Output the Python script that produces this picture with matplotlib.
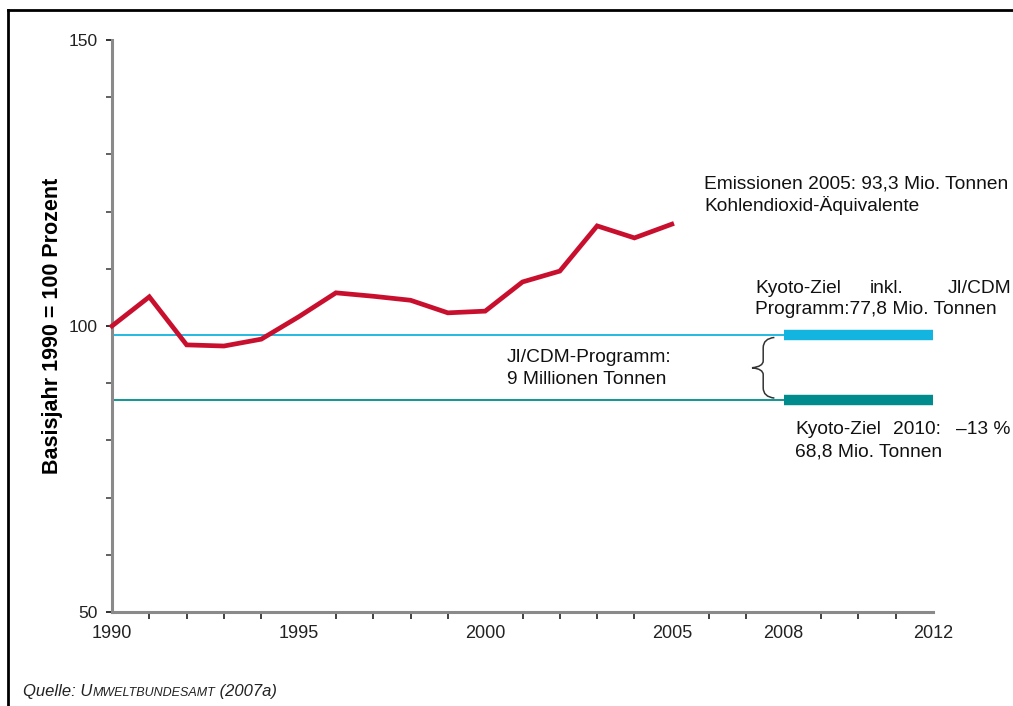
import numpy as np
import matplotlib
matplotlib.use('Agg')
import matplotlib.pyplot as plt
from matplotlib.path import Path
from matplotlib.patches import PathPatch
from matplotlib.lines import Line2D
from matplotlib.ticker import MultipleLocator

plt.rcParams['font.family'] = ['Liberation Sans', 'DejaVu Sans']

##########
# Data   #
##########

years = np.arange(1990, 2006)
emissions = [100.0, 105.1, 96.7, 96.5, 97.7, 101.6, 105.8, 105.2,
             104.5, 102.3, 102.6, 107.7, 109.6, 117.5, 115.4, 117.8]

kyoto_ji = 98.4      # Kyoto-Ziel inkl. JI/CDM (77,8 Mio. t)
kyoto_2010 = 87.0    # Kyoto-Ziel 2010 (68,8 Mio. t)
period = [2008, 2012]

xticks = [1990, 1995, 2000, 2005, 2008, 2012]
yticks = [50, 100, 150]

red = '#c8102e'
cyan = '#14b4e0'
teal = '#008c8c'

W, H = 1013, 706
def fx(px):
  return px/float(W)
def fy(py):
  return 1 - py/float(H)

fig = plt.figure(figsize=(W/100., H/100.), dpi=100)
ax = fig.add_axes([fx(112), fy(612), 821./W, 572./H])

# target lines and bars
ax.plot([years[0], period[0]], [kyoto_ji, kyoto_ji], color=cyan, lw=1.3, solid_capstyle='butt')
ax.plot([years[0], period[0]], [kyoto_2010, kyoto_2010], color=teal, lw=1.3, solid_capstyle='butt')
ax.plot(period, [kyoto_ji, kyoto_ji], color=cyan, lw=7.5, solid_capstyle='butt')
ax.plot(period, [kyoto_2010, kyoto_2010], color=teal, lw=7.5, solid_capstyle='butt')

# emissions
ax.plot(years, emissions, color=red, lw=3.4, solid_joinstyle='miter', clip_on=False, zorder=5)

ax.set_xlim(1990, 2012)
ax.set_ylim(50, 150)
ax.set_xticks(xticks)
ax.set_xticklabels([str(v) for v in xticks])
ax.xaxis.set_minor_locator(MultipleLocator(1))
ax.set_yticks(yticks)
ax.yaxis.set_minor_locator(MultipleLocator(10))
ax.tick_params(axis='x', which='major', length=0, pad=9, labelsize=13, colors='#222222')
ax.tick_params(axis='x', which='minor', length=5, width=1.3, color='#333333', direction='out')
ax.tick_params(axis='y', which='major', length=4, width=1.3, pad=6, labelsize=12.5, colors='#222222')
ax.tick_params(axis='y', which='minor', length=4, width=1.3, color='#555555')
for s in ['top', 'right']:
  ax.spines[s].set_visible(False)
ax.spines['left'].set_color('#8a8a8a')
ax.spines['left'].set_linewidth(2.2)
ax.spines['bottom'].set_color('#8a8a8a')
ax.spines['bottom'].set_linewidth(2.2)

ax.set_ylabel('Basisjahr 1990 = 100 Prozent', fontsize=15.5, fontweight='bold', labelpad=4)

# curly brace between the two targets
bx0, bx1, bxt = 2007.75, 2007.45, 2007.15
ytop, ybot = kyoto_ji - 0.4, kyoto_2010 + 0.4
ymid = (ytop + ybot)/2.
verts = [(bx0, ytop), (bx1, ytop - 0.2), (bx1, ytop - 1.8),
         (bx1, ymid + 1.2), (bx1, ymid + 0.2), (bxt, ymid),
         (bx1, ymid - 0.2), (bx1, ymid - 1.2),
         (bx1, ybot + 1.8), (bx1, ybot + 0.2), (bx0, ybot)]
codes = [Path.MOVETO, Path.CURVE3, Path.CURVE3,
         Path.LINETO, Path.CURVE3, Path.CURVE3,
         Path.CURVE3, Path.CURVE3,
         Path.LINETO, Path.CURVE3, Path.CURVE3]
ax.add_patch(PathPatch(Path(verts, codes), fill=False, ec='#333333', lw=1.1))

# annotations (figure pixel positions)
fs = 13.8
tc = '#111111'
fig.text(fx(704), fy(184), 'Emissionen 2005: 93,3 Mio. Tonnen', fontsize=fs, va='center', color=tc)
fig.text(fx(704), fy(206), 'Kohlendioxid-\u00c4quivalente', fontsize=fs, va='center', color=tc)
fig.text(fx(755), fy(289), 'Kyoto-Ziel', fontsize=fs, va='center', color=tc)
fig.text(fx(870), fy(289), 'inkl.', fontsize=fs, va='center', color=tc)
fig.text(fx(1011), fy(289), 'JI/CDM', fontsize=fs, va='center', ha='right', color=tc)
fig.text(fx(755), fy(310), 'Programm:77,8 Mio. Tonnen', fontsize=fs, va='center', color=tc)
fig.text(fx(507), fy(358), 'JI/CDM-Programm:', fontsize=fs, va='center', color=tc)
fig.text(fx(507), fy(380), '9 Millionen Tonnen', fontsize=fs, va='center', color=tc)
fig.text(fx(795), fy(430), 'Kyoto-Ziel', fontsize=fs, va='center', color=tc)
fig.text(fx(893), fy(430), '2010:', fontsize=fs, va='center', color=tc)
fig.text(fx(1010), fy(430), '\u201313 %', fontsize=fs, va='center', ha='right', color=tc)
fig.text(fx(795), fy(452), '68,8 Mio. Tonnen', fontsize=fs, va='center', color=tc)

# source line with small caps
r = fig.canvas.get_renderer()
x0 = fx(23)
for txt, size in [('Quelle: U', 12), ('MWELTBUNDESAMT', 9), (' (2007a)', 12)]:
  t = fig.text(x0, fy(696), txt, fontsize=size, style='italic', va='baseline', color='#222222')
  bb = t.get_window_extent(r)
  x0 = bb.x1/fig.bbox.width

# frame
fig.add_artist(Line2D([fx(8), 1], [fy(10), fy(10)], transform=fig.transFigure, color='k', lw=2.0))
fig.add_artist(Line2D([fx(8), fx(8)], [fy(10), 0], transform=fig.transFigure, color='k', lw=2.0))

plt.savefig('out.png', dpi=100)
plt.close()
